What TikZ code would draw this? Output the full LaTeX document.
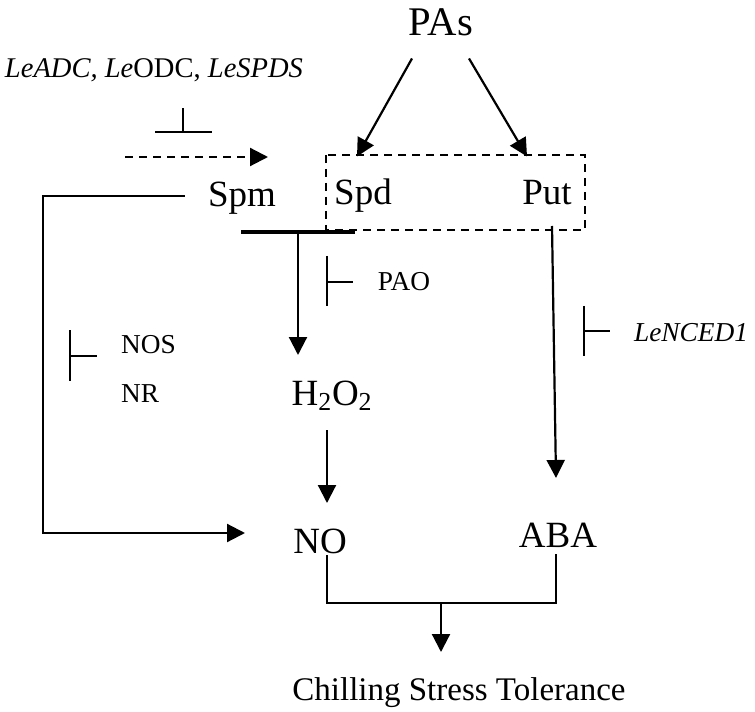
\documentclass[tikz,border=0pt]{standalone}
\usepackage{fontspec}
\setmainfont{Liberation Serif}
\usetikzlibrary{arrows.meta}
\begin{document}
\begin{tikzpicture}[x=.75pt,y=-.75pt,line width=1.65pt,line join=miter,
  >={Triangle[length=13.5pt,width=13.5pt]},
  every node/.style={inner sep=0pt,anchor=base},
  big/.style={font=\fontsize{27.75}{30}\selectfont},
  small/.style={font=\fontsize{20.5}{24}\selectfont},
  dashline/.style={dash pattern=on 6pt off 4.5pt}]
  \useasboundingbox (0,0) rectangle (755,712);
  \node[font=\fontsize{30.5}{32}\selectfont] (PAs) at (441,36) {PAs};
  \node[font=\fontsize{21.4}{24}\selectfont] (genes) at (154,78) {\itshape LeADC, Le\upshape ODC, \itshape LeSPDS};
  \node[big] (Spm) at (242,207) {Spm};
  \node[big] (Spd) at (363,205) {Spd};
  \node[big] (Put) at (547,205) {Put};
  \node[small] (PAO) at (404,291) {PAO};
  \node[small,anchor=base west] (NOS) at (120,353) {NOS};
  \node[small,anchor=base west] (NR) at (120,402) {NR};
  \node[small,anchor=base west,font=\fontsize{20.5}{24}\selectfont\itshape] (NCED) at (633,341) {LeNCED1};
  \node[big] (HO) at (332,405) {H\textsubscript{2}O\textsubscript{2}};
  \node[big] (NO) at (320,553) {NO};
  \node[big] (ABA) at (558,547) {ABA};
  \node[font=\fontsize{24.75}{28}\selectfont] (CST) at (459,700) {Chilling Stress Tolerance};
  \coordinate (join) at (298,232);
  \coordinate (base) at (441,603);
  % PAs pool
  \draw[->] (PAs.south) ++(-29,21) -- ++(-55,98);
  \draw[->] (PAs.south) ++(28,21) -- ++(58,98);
  \draw[dashline] (326,155) rectangle (585,230);
  % synthesis
  \draw[dashline,->] (125,157) -- (268,157);
  \draw (155,132) -- (212,132) (183,132) -- (183,108);
  % Spm -> NO
  \draw[->] (Spm.west) ++(-22,-3) -- ++(-142,0) |- (245,533);
  \draw (70,330) -- (70,381) (70,356) -- (97,356);
  % Spm, Spd -> H2O2 -> NO
  \draw[line width=2.5pt] (241,232) -- (355,232);
  \draw[->] (join) -- (298,355);
  \draw (327,256) -- (327,306) (327,282) -- (353,282);
  \draw[->] (327,430) -- (327,503);
  % Put -> ABA
  \draw[->] (552,226) -- (556,478);
  \draw (584,306) -- (584,356) (584,331) -- (610,331);
  % tolerance
  \draw (327,555) -- (327,603) -- (556,603) -- (556,554);
  \draw[->] (base) -- (441,652);
\end{tikzpicture}
\end{document}
